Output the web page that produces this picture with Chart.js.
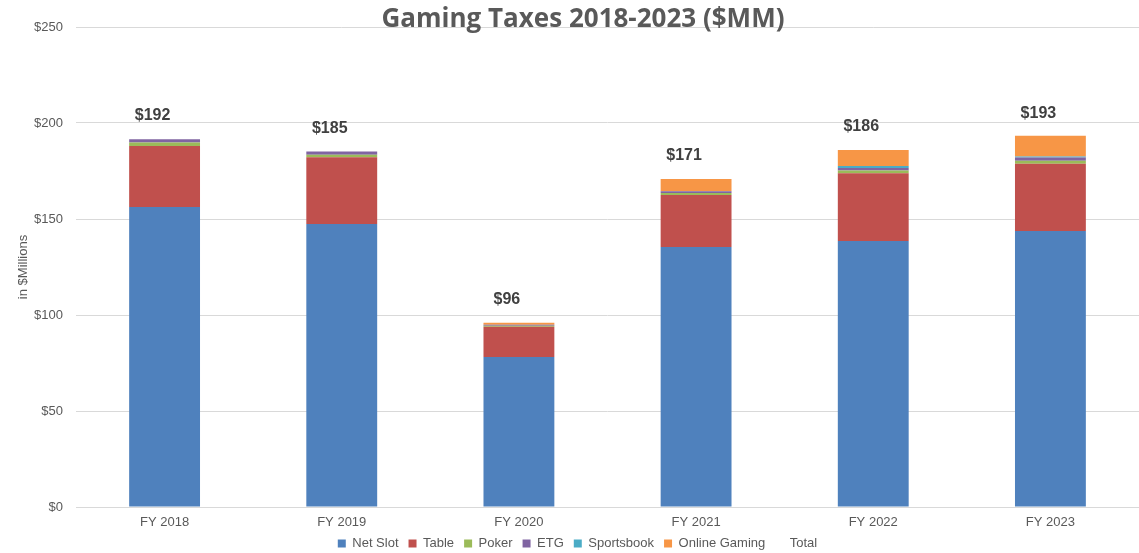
<!DOCTYPE html>
<html>
<head>
<meta charset="utf-8">
<script src="https://cdn.jsdelivr.net/npm/chart.js@4"></script>
<style>
    html, body { margin: 0; padding: 0; background: #ffffff; }
    #wrap { width: 1139px; height: 553px; position: relative; }
</style>
</head>
<body>
<div id="wrap"><canvas id="myChart"></canvas></div>
<script>
// du lieu doc tu hinh
const years = ['FY 2018', 'FY 2019', 'FY 2020', 'FY 2021', 'FY 2022', 'FY 2023']
const netSlot = [156.2, 147.4, 78.1, 135.4, 138.5, 143.8]
const table = [31.8, 34.7, 15.8, 27.1, 35.3, 35.0]
const poker = [1.8, 1.4, 0.5, 1.0, 1.4, 1.6]
const etg = [1.8, 1.6, 0.5, 1.0, 1.4, 1.6]
const sportsbook = [0, 0, 0, 0, 1.0, 0.5]
const onlineGaming = [0, 0, 1.0, 6.3, 8.3, 10.8]
const totals = [192, 185, 96, 171, 186, 193]
const yTicks = [0, 50, 100, 150, 200, 250]

const textColor = '#595959'

// ve tieu de
const titlePlugin = {
    id: 'titlePlugin',
    afterDraw(chart) {
        const ctx = chart.ctx
        ctx.save()
        ctx.font = 'bold 26px "Open Sans", sans-serif'
        ctx.fillStyle = textColor
        ctx.textAlign = 'center'
        ctx.textBaseline = 'middle'
        ctx.fillText('Gaming Taxes 2018-2023 ($MM)', 583, 20)
        ctx.restore()
    }
}

// nhan tong tren cot
const totalLabels = {
    id: 'totalLabels',
    afterDatasetsDraw(chart) {
        const ctx = chart.ctx
        const meta = chart.getDatasetMeta(6)
        ctx.save()
        ctx.font = 'bold 16px "Liberation Sans", Arial, sans-serif'
        ctx.fillStyle = '#404040'
        ctx.textAlign = 'center'
        ctx.textBaseline = 'middle'
        meta.data.forEach((pt, i) => {
            ctx.fillText('$' + totals[i], pt.x - 12, pt.y - 23)
        })
        ctx.restore()
    }
}

const barSet = (label, data, color) => ({
    type: 'bar',
    label: label,
    data: data,
    backgroundColor: color,
    borderWidth: 0,
    stack: 'a',
    barPercentage: 0.4,
    categoryPercentage: 1.0
})

const ctx = document.getElementById('myChart').getContext('2d')
const myChart = new Chart(ctx, {
    data: {
        labels: years,
        datasets: [
            barSet('Net Slot', netSlot, '#4f81bd'),
            barSet('Table', table, '#c0504d'),
            barSet('Poker', poker, '#9bbb59'),
            barSet('ETG', etg, '#8064a2'),
            barSet('Sportsbook', sportsbook, '#4bacc6'),
            barSet('Online Gaming', onlineGaming, '#f79646'),
            {
                type: 'line',
                label: 'Total',
                data: totals,
                stack: 'total',
                showLine: false,
                pointRadius: 0,
                backgroundColor: 'rgba(0,0,0,0)',
                borderColor: 'rgba(0,0,0,0)',
                borderWidth: 0
            }
        ]
    },
    options: {
        responsive: true,
        maintainAspectRatio: false,
        animation: false,
        layout: {
            padding: { top: 27, left: 16, right: 0, bottom: -7 }
        },
        plugins: {
            legend: {
                position: 'bottom',
                labels: {
                    color: textColor,
                    boxWidth: 8,
                    boxHeight: 8,
                    padding: 10,
                    font: { size: 13, family: '"Liberation Sans", Arial, sans-serif' }
                }
            },
            tooltip: { enabled: false }
        },
        scales: {
            x: {
                stacked: true,
                afterFit: (s) => { s.height = 20 },
                grid: { display: false, drawTicks: false },
                border: { color: '#d9d9d9' },
                ticks: {
                    color: textColor,
                    padding: 8,
                    font: { size: 13, family: '"Liberation Sans", Arial, sans-serif' }
                }
            },
            y: {
                stacked: true,
                min: 0,
                max: 250,
                afterFit: (s) => { s.width = 60 },
                afterBuildTicks: (s) => { s.ticks = yTicks.map(v => ({ value: v })) },
                grid: { color: '#d9d9d9', drawTicks: false },
                border: { display: false },
                ticks: {
                    color: textColor,
                    padding: 13,
                    font: { size: 13, family: '"Liberation Sans", Arial, sans-serif' },
                    callback: (v) => '$' + v
                },
                title: {
                    display: true,
                    text: 'in $Millions',
                    color: textColor,
                    padding: 0,
                    font: { size: 13, family: '"Liberation Sans", Arial, sans-serif' }
                }
            }
        }
    },
    plugins: [titlePlugin, totalLabels]
})
</script>
</body>
</html>
